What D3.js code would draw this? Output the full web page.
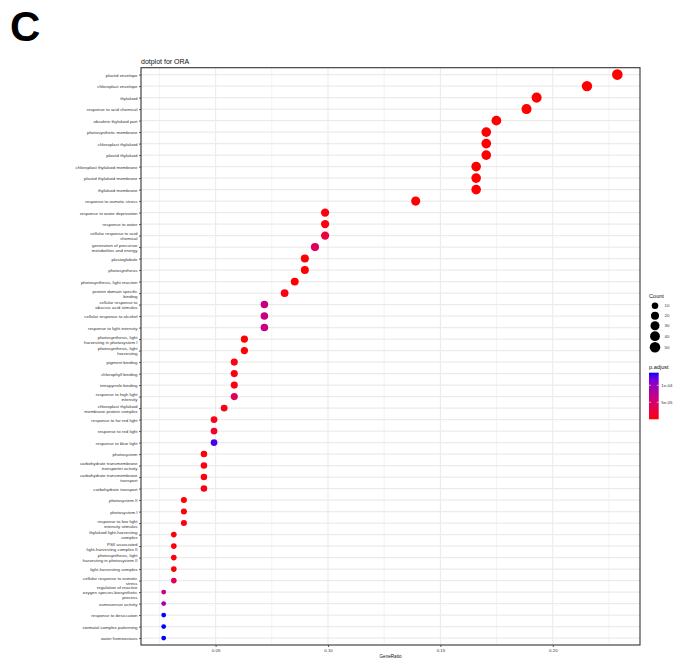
<!DOCTYPE html>
<meta charset="utf-8">
<style>

body {
  margin: 0;
  background: #fff;
}

text {
  font-family: "Liberation Sans", Arial, sans-serif;
}

</style>
<body>
<script src="https://d3js.org/d3.v7.min.js"></script>
<script>

var terms = [
  "plastid envelope",
  "chloroplast envelope",
  "thylakoid",
  "response to acid chemical",
  "obsolete thylakoid part",
  "photosynthetic membrane",
  "chloroplast thylakoid",
  "plastid thylakoid",
  "chloroplast thylakoid membrane",
  "plastid thylakoid membrane",
  "thylakoid membrane",
  "response to osmotic stress",
  "response to water deprivation",
  "response to water",
  "cellular response to acid\nchemical",
  "generation of precursor\nmetabolites and energy",
  "plastoglobule",
  "photosynthesis",
  "photosynthesis, light reaction",
  "protein domain specific\nbinding",
  "cellular response to\nabscisic acid stimulus",
  "cellular response to alcohol",
  "response to light intensity",
  "photosynthesis, light\nharvesting in photosystem I",
  "photosynthesis, light\nharvesting",
  "pigment binding",
  "chlorophyll binding",
  "tetrapyrrole binding",
  "response to high light\nintensity",
  "chloroplast thylakoid\nmembrane protein complex",
  "response to far red light",
  "response to red light",
  "response to blue light",
  "photosystem",
  "carbohydrate transmembrane\ntransporter activity",
  "carbohydrate transmembrane\ntransport",
  "carbohydrate transport",
  "photosystem II",
  "photosystem I",
  "response to low light\nintensity stimulus",
  "thylakoid light-harvesting\ncomplex",
  "PSII associated\nlight-harvesting complex II",
  "photosynthesis, light\nharvesting in photosystem II",
  "light-harvesting complex",
  "cellular response to osmotic\nstress",
  "regulation of reactive\noxygen species biosynthetic\nprocess",
  "osmosensor activity",
  "response to desiccation",
  "stomatal complex patterning",
  "water homeostasis"
];

var geneRatio = [
  0.2287, 0.2152, 0.1928, 0.1883, 0.1749, 0.1704, 0.1704, 0.1704, 0.1659, 0.1659,
  0.1659, 0.1390, 0.0987, 0.0987, 0.0987, 0.0942, 0.0897, 0.0897, 0.0852, 0.0807,
  0.0717, 0.0717, 0.0717, 0.0628, 0.0628, 0.0583, 0.0583, 0.0583, 0.0583, 0.0538,
  0.0493, 0.0493, 0.0493, 0.0448, 0.0448, 0.0448, 0.0448, 0.0359, 0.0359, 0.0359,
  0.0314, 0.0314, 0.0314, 0.0314, 0.0314, 0.0269, 0.0269, 0.0269, 0.0269, 0.0269
];

var counts = [
  51, 48, 43, 42, 39, 38, 38, 38, 37, 37,
  37, 31, 22, 22, 22, 21, 20, 20, 19, 18,
  16, 16, 16, 14, 14, 13, 13, 13, 13, 12,
  11, 11, 11, 10, 10, 10, 10, 8, 8, 8,
  7, 7, 7, 7, 7, 6, 6, 6, 6, 6
];

var pAdjust = [
  3.2e-15, 1.1e-13, 4.5e-12, 2.6e-9, 7.1e-11, 2.0e-10, 2.0e-10, 2.0e-10, 6.3e-10, 6.3e-10,
  6.3e-10, 4.1e-7, 3.0e-6, 3.6e-6, 2.4e-5, 4.2e-5, 1.9e-7, 5.5e-7, 8.3e-7, 4.6e-6,
  6.3e-5, 6.3e-5, 6.5e-5, 2.1e-7, 1.4e-6, 3.9e-6, 3.9e-6, 3.9e-6, 3.8e-5, 8.0e-6,
  5.1e-6, 1.6e-5, 1.30e-4, 1.5e-6, 2.8e-6, 3.1e-6, 3.5e-6, 1.2e-6, 1.2e-6, 6.6e-6,
  2.0e-6, 2.0e-6, 2.0e-6, 2.0e-6, 3.7e-5, 6.9e-5, 9.2e-5, 1.37e-4, 1.37e-4, 1.37e-4
];

var xTicks = [0.05, 0.10, 0.15, 0.20];
var xMinor = [0.025, 0.075, 0.125, 0.175, 0.225];
var sizeBreaks = [10, 20, 30, 40, 50];
var colorBreaks = [5e-5, 1e-4];
var colorLabels = ["5e-05", "1e-04"];

var width = 696,
    height = 664,
    pLeft = 141,
    pRight = 640,
    pTop = 67.7,
    pBottom = 645;

var data = terms.map(function(t, i) {
  return {term: t, ratio: geneRatio[i], count: counts[i], p: pAdjust[i]};
});

var svg = d3.select("body").append("svg")
    .attr("width", width)
    .attr("height", height);

// panel letter
svg.append("text")
    .attr("x", 10)
    .attr("y", 41)
    .attr("font-size", 42)
    .attr("font-weight", "bold")
    .text("C");

svg.append("text")
    .attr("x", pLeft)
    .attr("y", 63.5)
    .attr("font-size", 7)
    .attr("fill", "#111")
    .text("dotplot for ORA");

var ext = d3.extent(geneRatio),
    padX = (ext[1] - ext[0]) * 0.05;

var x = d3.scaleLinear()
    .domain([ext[0] - padX, ext[1] + padX])
    .range([pLeft, pRight]);

var y = d3.scalePoint()
    .domain(terms)
    .range([pTop, pBottom])
    .padding(0.6);

var cExt = d3.extent(counts);
function radius(c) {
  return 2.4 + Math.sqrt((c - cExt[0]) / (cExt[1] - cExt[0])) * 2.9;
}

var color = d3.scaleLinear()
    .domain(d3.extent(pAdjust))
    .range(["red", "blue"])
    .interpolate(d3.interpolateLab);

// panel + grid
svg.append("rect")
    .attr("x", pLeft).attr("y", pTop)
    .attr("width", pRight - pLeft).attr("height", pBottom - pTop)
    .attr("fill", "#fff");

var grid = svg.append("g");

grid.selectAll(".minor")
  .data(xMinor)
  .enter().append("line")
    .attr("x1", x).attr("x2", x)
    .attr("y1", pTop).attr("y2", pBottom)
    .attr("stroke", "#ebebeb")
    .attr("stroke-width", 0.6);

grid.selectAll(".major")
  .data(xTicks)
  .enter().append("line")
    .attr("x1", x).attr("x2", x)
    .attr("y1", pTop).attr("y2", pBottom)
    .attr("stroke", "#ebebeb")
    .attr("stroke-width", 1.1);

grid.selectAll(".row")
  .data(terms)
  .enter().append("line")
    .attr("x1", pLeft).attr("x2", pRight)
    .attr("y1", y).attr("y2", y)
    .attr("stroke", "#ebebeb")
    .attr("stroke-width", 1.1);

svg.append("g").selectAll("circle")
  .data(data)
  .enter().append("circle")
    .attr("cx", function(d) { return x(d.ratio); })
    .attr("cy", function(d) { return y(d.term); })
    .attr("r", function(d) { return radius(d.count); })
    .attr("fill", function(d) { return color(d.p); });

svg.append("rect")
    .attr("x", pLeft).attr("y", pTop)
    .attr("width", pRight - pLeft).attr("height", pBottom - pTop)
    .attr("fill", "none")
    .attr("stroke", "#333")
    .attr("stroke-width", 1.1);

// axes
var yAxis = svg.append("g")
    .attr("transform", "translate(" + pLeft + ",0)")
    .call(d3.axisLeft(y).tickSize(2).tickPadding(1.5));

yAxis.select(".domain").remove();
yAxis.selectAll(".tick line").attr("stroke", "#333").attr("stroke-width", 0.8);
yAxis.selectAll(".tick text")
    .attr("font-size", 4.4)
    .attr("fill", "#333")
    .attr("font-family", null)
    .each(function(d) {
      var lines = d.split("\n"),
          el = d3.select(this).text(null).attr("dy", null);
      lines.forEach(function(l, i) {
        el.append("tspan")
            .attr("x", -3.5)
            .attr("dy", i === 0 ? (-(lines.length - 1) / 2 * 5 + 1.5) : 5)
            .text(l);
      });
    });

var xAxis = svg.append("g")
    .attr("transform", "translate(0," + pBottom + ")")
    .call(d3.axisBottom(x).tickValues(xTicks).tickFormat(d3.format(".2f")).tickSize(2).tickPadding(1.5));

xAxis.select(".domain").remove();
xAxis.selectAll(".tick line").attr("stroke", "#333").attr("stroke-width", 0.8);
xAxis.selectAll(".tick text")
    .attr("font-size", 4.4)
    .attr("fill", "#333")
    .attr("font-family", null);

svg.append("text")
    .attr("x", (pLeft + pRight) / 2)
    .attr("y", 657.5)
    .attr("text-anchor", "middle")
    .attr("font-size", 4.6)
    .attr("fill", "#111")
    .text("GeneRatio");

// size legend
var lg = svg.append("g");
lg.append("text")
    .attr("x", 649)
    .attr("y", 298)
    .attr("font-size", 5.6)
    .attr("fill", "#111")
    .text("Count");

var ky = 300.7;
sizeBreaks.forEach(function(b) {
  var r = radius(b),
      h = Math.max(10, 2 * r + 1);
  var cy = ky + h / 2;
  lg.append("circle")
      .attr("cx", 655)
      .attr("cy", cy)
      .attr("r", r)
      .attr("fill", "#000");
  lg.append("text")
      .attr("x", 664.5)
      .attr("y", cy + 1.5)
      .attr("font-size", 4.4)
      .attr("fill", "#333")
      .text(b);
  ky += h;
});

// colour legend
var barTop = 372.7,
    barBottom = 419.3,
    barX = 649,
    barW = 9.7;

lg.append("text")
    .attr("x", barX)
    .attr("y", 369)
    .attr("font-size", 5.6)
    .attr("fill", "#111")
    .text("p.adjust");

var cb = d3.scaleLinear()
    .domain(color.domain())
    .range([barBottom, barTop]);

var grad = svg.append("defs").append("linearGradient")
    .attr("id", "pgrad")
    .attr("x1", 0).attr("x2", 0)
    .attr("y1", 1).attr("y2", 0);

d3.range(0, 1.0001, 0.1).forEach(function(t) {
  grad.append("stop")
      .attr("offset", t)
      .attr("stop-color", d3.interpolateLab("red", "blue")(t));
});

lg.append("rect")
    .attr("x", barX).attr("y", barTop)
    .attr("width", barW).attr("height", barBottom - barTop)
    .attr("fill", "url(#pgrad)");

colorBreaks.forEach(function(b, i) {
  var yy = cb(b);
  lg.append("line")
      .attr("x1", barX).attr("x2", barX + 2)
      .attr("y1", yy).attr("y2", yy)
      .attr("stroke", "#fff").attr("stroke-width", 0.6);
  lg.append("line")
      .attr("x1", barX + barW - 2).attr("x2", barX + barW)
      .attr("y1", yy).attr("y2", yy)
      .attr("stroke", "#fff").attr("stroke-width", 0.6);
  lg.append("text")
      .attr("x", barX + barW + 2.5)
      .attr("y", yy + 1.5)
      .attr("font-size", 4.4)
      .attr("fill", "#333")
      .text(colorLabels[i]);
});

</script>
